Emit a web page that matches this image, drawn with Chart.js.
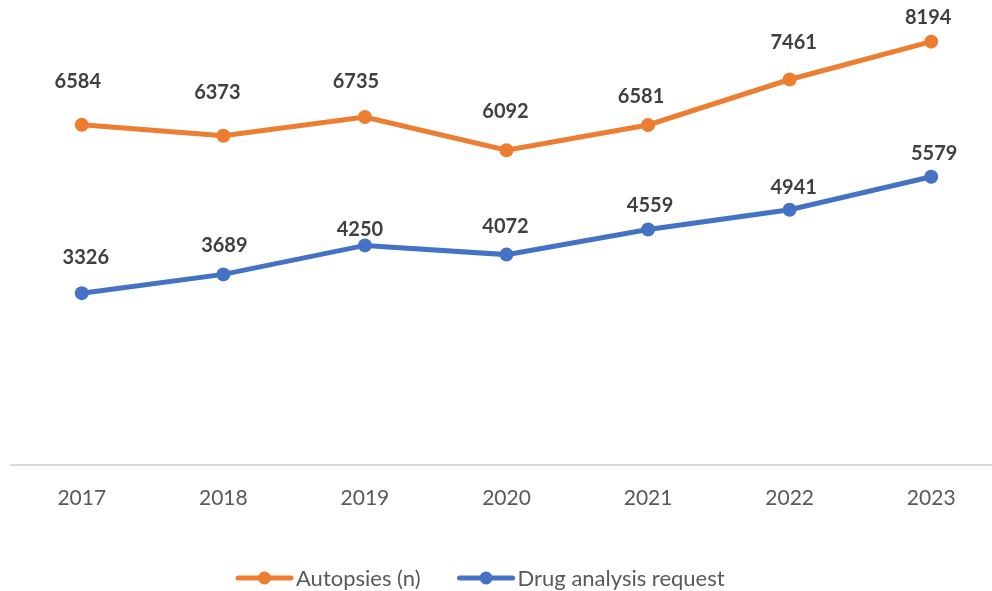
<!DOCTYPE html>
<html>
<head>
<meta charset="utf-8">
<script src="https://cdn.jsdelivr.net/npm/chart.js@4"></script>
<style>
  html, body { margin: 0; padding: 0; background: #ffffff; overflow: hidden; }
  #wrap { width: 992px; height: 591px; position: relative; overflow: hidden; }
  #c { display: block; }
</style>
</head>
<body>
<div id="wrap"><canvas id="c" width="1002" height="591"></canvas></div>
<script>
// ---- data ----
const years = ['2017', '2018', '2019', '2020', '2021', '2022', '2023'];
const autopsies = [6584, 6373, 6735, 6092, 6581, 7461, 8194];
const drugRequests = [3326, 3689, 4250, 4072, 4559, 4941, 5579];
const seriesNames = ['Autopsies (n)', 'Drug analysis request'];

// ---- styles ----
const ORANGE = '#ED7D31';
const BLUE = '#4472C4';
const FONT = 'Lato';

// label placement tweaks (relative to each point, pixels)
const labelShift = [
  { dx: [-4, -6, -9, -1, -7, 4, -3], dy: [-43, -43, -35, -39, -28, -37, -24] },
  { dx: [4, 1, -5, -1, 2, 4, 3], dy: [-36, -29, -16, -28, -24, -22, -23] }
];

const labelPlugin = {
  id: 'valueLabels',
  afterDatasetsDraw(chart) {
    const ctx = chart.ctx;
    ctx.save();
    ctx.font = 'bold 20px ' + FONT;
    ctx.fillStyle = '#404040';
    ctx.textAlign = 'center';
    ctx.textBaseline = 'middle';
    chart.data.datasets.forEach((ds, di) => {
      const meta = chart.getDatasetMeta(di);
      meta.data.forEach((pt, i) => {
        ctx.fillText(String(ds.data[i]), pt.x + labelShift[di].dx[i], pt.y + labelShift[di].dy[i]);
      });
    });
    ctx.restore();
  }
};

const legendPlugin = {
  id: 'customLegend',
  afterDraw(chart) {
    const ctx = chart.ctx;
    ctx.save();
    ctx.font = '22px ' + FONT;
    ctx.textBaseline = 'middle';
    ctx.textAlign = 'left';
    const y = 578;
    let x = 236;
    chart.data.datasets.forEach((ds) => {
      const col = ds.borderColor;
      ctx.strokeStyle = col;
      ctx.lineWidth = 5;
      ctx.lineCap = 'round';
      ctx.beginPath();
      ctx.moveTo(x + 2, y);
      ctx.lineTo(x + 55, y);
      ctx.stroke();
      ctx.fillStyle = col;
      ctx.beginPath();
      ctx.arc(x + 28.5, y, 6.5, 0, Math.PI * 2);
      ctx.fill();
      ctx.fillStyle = '#595959';
      ctx.fillText(ds.label, x + 60, y + 1);
      x += 60 + ctx.measureText(ds.label).width + 37;
    });
    ctx.restore();
  }
};

new Chart(document.getElementById('c'), {
  type: 'line',
  data: {
    labels: years,
    datasets: [
      {
        label: seriesNames[0],
        data: autopsies,
        borderColor: ORANGE,
        backgroundColor: ORANGE,
        borderWidth: 5,
        pointRadius: 7,
        pointBorderWidth: 0,
        pointBackgroundColor: ORANGE,
        tension: 0,
        clip: false
      },
      {
        label: seriesNames[1],
        data: drugRequests,
        borderColor: BLUE,
        backgroundColor: BLUE,
        borderWidth: 5,
        pointRadius: 7,
        pointBorderWidth: 0,
        pointBackgroundColor: BLUE,
        tension: 0,
        clip: false
      }
    ]
  },
  options: {
    responsive: false,
    animation: false,
    devicePixelRatio: 1,
    layout: { autoPadding: false, padding: { left: 11, right: 0, top: 0, bottom: 82 } },
    plugins: {
      legend: { display: false },
      tooltip: { enabled: false }
    },
    scales: {
      x: {
        offset: true,
        grid: { display: false, drawTicks: false, offset: true },
        border: { display: true, color: '#d9d9d9', width: 2 },
        ticks: {
          color: '#595959',
          font: { family: FONT, size: 21 },
          padding: 21,
          maxRotation: 0
        },
        afterFit(scale) { scale.height = 44; }
      },
      y: {
        display: false,
        min: 0,
        max: 9000
      }
    }
  },
  plugins: [labelPlugin, legendPlugin]
});
</script>
</body>
</html>
